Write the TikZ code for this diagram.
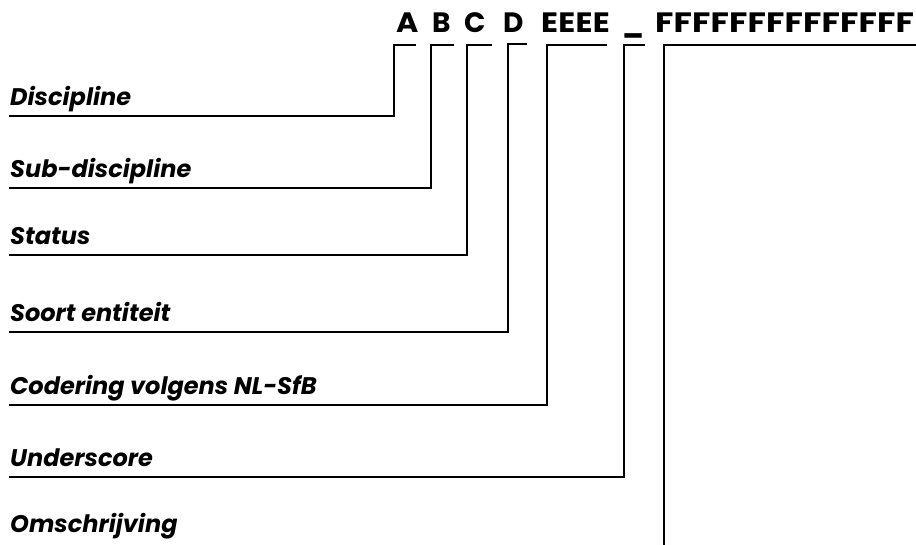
\documentclass[tikz,border=0pt]{standalone}
\usepackage{fontspec}
\usepackage{graphicx}
\setmainfont{Poppins}
\newcommand\wideE{\scalebox{1.12}[1]{E}}
\newcommand\wideF{\scalebox{1.2}[1]{F}}
\newcommand\myE{\makebox[17.2pt][l]{\wideE}}
\newcommand\myF{\makebox[18.5pt][l]{\wideF}}
\begin{document}
\begin{tikzpicture}[x=1pt,y=-1pt,
  hdr/.style={anchor=base west,inner sep=0pt,font=\fontsize{28}{28}\selectfont\bfseries},
  lbl/.style={anchor=base west,inner sep=0pt,font=\fontsize{24}{24}\selectfont\bfseries\itshape},
  link/.style={line width=1.7pt,line join=miter}]
\useasboundingbox (0,0) rectangle (916,544);
% header
\node[hdr] (hA) at (396,32) {\scalebox{1.08}[1]{A}};
\node[hdr] (hB) at (432,32) {B};
\node[hdr] (hC) at (464,32) {C};
\node[hdr] (hD) at (503,32) {D};
\node[hdr] (hE) at (541,32) {\myE\myE\myE\wideE};
\node[hdr] (hU) at (622,32) {\_};
\node[hdr] (hF) at (655,32) {\myF\myF\myF\myF\myF\myF\myF\myF\myF\myF\myF\myF\myF\wideF};
% labels
\node[lbl] (l1) at (10,105) {Discipline};
\node[lbl] (l2) at (10,177) {Sub-discipline};
\node[lbl] (l3) at (10,244) {Status};
\node[lbl] (l4) at (10,321) {Soort entiteit};
\node[lbl] (l5) at (10,394) {Codering volgens NL-SfB};
\node[lbl] (l6) at (10,466) {Underscore};
\node[lbl] (l7) at (10,532) {Omschrijving};
% connector corners
\coordinate (s1) at (9,116);  \coordinate (t1) at (416,45);
\coordinate (s2) at (9,188);  \coordinate (t2) at (454,45);
\coordinate (s3) at (9,255);  \coordinate (t3) at (492,45);
\coordinate (s4) at (9,332);  \coordinate (t4) at (527,44);
\coordinate (s5) at (9,405);  \coordinate (t5) at (607,45);
\coordinate (s6) at (9,477);  \coordinate (t6) at (645,45);
\coordinate (s7) at (664,546); \coordinate (t7) at (918,45);
\draw[link] (s1) -| (394,45) -- (t1);
\draw[link] (s2) -| (431,45) -- (t2);
\draw[link] (s3) -| (467,45) -- (t3);
\draw[link] (s4) -| (508,44) -- (t4);
\draw[link] (s5) -| (547,45) -- (t5);
\draw[link] (s6) -| (624,45) -- (t6);
\draw[link] (s7) |- (t7);
\end{tikzpicture}
\end{document}
